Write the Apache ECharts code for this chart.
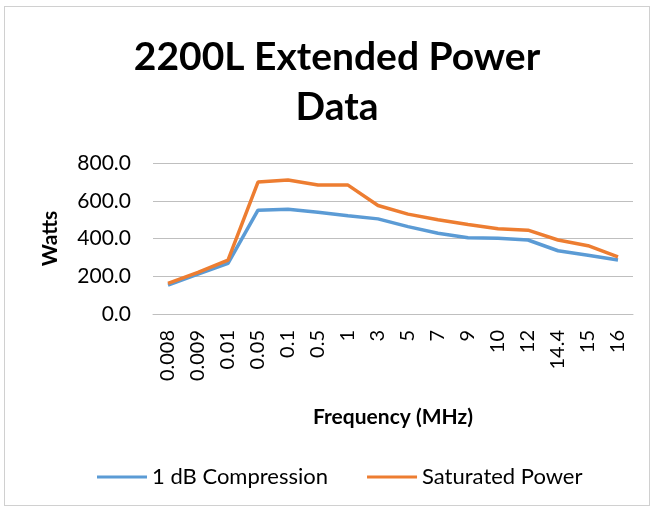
<!DOCTYPE html>
<html><head><meta charset="utf-8">
<script src="https://cdn.jsdelivr.net/npm/echarts@6/dist/echarts.min.js"></script>
<style>html,body{margin:0;padding:0;background:#fff}
#c{position:absolute;left:0;top:0;width:655px;height:509px}
#b{position:absolute;left:4px;top:6px;width:646px;height:500px;border:1px solid #d0d0d0;box-sizing:border-box;pointer-events:none}</style>
</head><body><div id="c"></div><div id="b"></div>
<script>
const categories = ['0.008','0.009','0.01','0.05','0.1','0.5','1','3','5','7','9','10','12','14.4','15','16'];
const compression1dB = [153,211,268,550,555,539,521,504,463,428,404,401,392,335,311,286];
const saturatedPower = [162,220,286,699,710,683,683,575,529,499,474,452,444,392,362,303];
const yTicks = [0,200,400,600,800];

const font = 'Lato, "Open Sans", sans-serif';
const chart = echarts.init(document.getElementById('c'));
chart.setOption({
  animation:false,
  title:{text:'2200L Extended Power\nData',left:332,top:27,textAlign:'center',
    textStyle:{fontFamily:font,fontWeight:'bold',fontSize:39,lineHeight:50,color:'#000'}},
  legend:{top:461,left:92,itemWidth:50,itemHeight:3,itemGap:39,icon:'rect',
    textStyle:{fontFamily:font,fontSize:22,color:'#000'},
    data:['1 dB Compression','Saturated Power']},
  grid:{left:153,right:22,top:163,bottom:195},
  xAxis:{type:'category',data:categories,boundaryGap:true,
    name:'Frequency (MHz)',nameLocation:'middle',nameGap:93,
    nameTextStyle:{fontFamily:font,fontWeight:'bold',fontSize:21,color:'#000'},
    axisLine:{lineStyle:{color:'#bfbfbf'}},axisTick:{show:false},
    axisLabel:{rotate:90,fontFamily:font,fontSize:20,color:'#000',margin:16}},
  yAxis:{type:'value',min:yTicks[0],max:yTicks[yTicks.length-1],interval:200,
    name:'Watts',nameLocation:'middle',nameGap:92,
    nameTextStyle:{fontFamily:font,fontWeight:'bold',fontSize:21,color:'#000'},
    axisLine:{show:false},axisTick:{show:false},
    axisLabel:{fontFamily:font,fontSize:21,color:'#000',margin:22,formatter:v=>v.toFixed(1)},
    splitLine:{lineStyle:{color:'#bfbfbf',width:1}}},
  series:[
    {name:'1 dB Compression',type:'line',data:compression1dB,symbol:'none',
      lineStyle:{color:'#5b9bd5',width:3.5},itemStyle:{color:'#5b9bd5'}},
    {name:'Saturated Power',type:'line',data:saturatedPower,symbol:'none',
      lineStyle:{color:'#ed7d31',width:3.5},itemStyle:{color:'#ed7d31'}}
  ]
});
</script></body></html>
